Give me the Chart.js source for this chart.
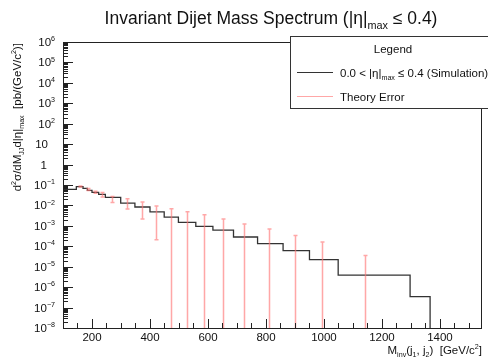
<!DOCTYPE html>
<html>
<head>
<meta charset="utf-8">
<script src="https://cdn.jsdelivr.net/npm/chart.js@4.4.0/dist/chart.umd.min.js"></script>
<style>
  html, body { margin: 0; padding: 0; background: #fff; }
  #wrap { width: 488px; height: 363px; }
</style>
</head>
<body>
<div id="wrap"><canvas id="chart" width="488" height="363"></canvas></div>
<script>
// histogram bins (GeV/c^2) and contents (pb/(GeV/c^2))
const binEdges = [100, 146, 169, 184, 200, 223, 246, 299, 348, 400, 449, 498, 558, 617, 688, 771, 859, 950, 1049, 1297, 1366];
const binValues = [0.061, 0.083, 0.068, 0.055, 0.044, 0.035, 0.025, 0.013, 0.0084, 0.0048, 0.0027, 0.00148,
                   0.00094, 0.00062, 0.000285, 0.000135, 0.000062, 0.000022, 0.0000039, 0.00000034];

// theory error bars (null low = runs off the bottom of the axis)
const errMass = [160, 186, 209, 236, 270, 322, 372, 421, 471, 527, 586, 651, 725, 810, 899, 994, 1142];
const errHigh = [0.089, 0.068, 0.049, 0.0435, 0.0277, 0.0214, 0.0147, 0.0094, 0.0069, 0.0049, 0.0035,
                 0.00217, 0.00123, 0.0007, 0.00034, 0.000162, 0.000035];
const errLow = [0.080, 0.054, 0.039, 0.026, 0.0141, 0.0067, 0.00217, 0.00021, null, null, null,
                null, null, null, null, null, null];

const xTicks = [200, 400, 600, 800, 1000, 1200, 1400];
const yExps = [6, 5, 4, 3, 2, 1, 0, -1, -2, -3, -4, -5, -6, -7, -8];

const FONT = '"Liberation Sans", Arial, Helvetica, sans-serif';

// histogram as step line points
var histPoints = [];
for (var i = 0; i < binValues.length; i++) {
    histPoints.push({x: binEdges[i], y: binValues[i]});
}
histPoints.push({x: binEdges[binEdges.length - 1], y: binValues[binValues.length - 1]});
histPoints.push({x: binEdges[binEdges.length - 1], y: 1e-12});

// draw text made of pieces, some sub/superscript
function richWidth(ctx, parts, size){
    var w = 0;
    parts.forEach(function(p){
        var s = p.s ? size * 0.62 : size;
        ctx.font = s + 'px ' + FONT;
        w += ctx.measureText(p.t).width;
    });
    return w;
}
function drawRich(ctx, parts, x, y, size, align){
    var w = richWidth(ctx, parts, size);
    var cx = x;
    if (align === 'right') cx = x - w;
    if (align === 'center') cx = x - w / 2;
    ctx.textBaseline = 'alphabetic';
    ctx.textAlign = 'left';
    parts.forEach(function(p){
        var s = p.s ? size * 0.62 : size;
        var dy = 0;
        if (p.s === 'sub') dy = size * 0.3;
        if (p.s === 'sup') dy = -size * 0.42;
        ctx.font = s + 'px ' + FONT;
        ctx.fillText(p.t, cx, y + dy);
        cx += ctx.measureText(p.t).width;
    });
}

const rootStyle = {
    id: 'rootStyle',
    afterDatasetsDraw: function(chart){
        const ctx = chart.ctx;
        const xs = chart.scales.x, ys = chart.scales.y;
        const area = chart.chartArea;
        ctx.save();
        ctx.beginPath();
        ctx.rect(area.left, area.top, area.right - area.left, area.bottom - area.top);
        ctx.clip();
        ctx.strokeStyle = 'rgba(255,120,120,0.65)';
        ctx.lineWidth = 1.5;
        for (var i = 0; i < errMass.length; i++) {
            var px = Math.round(xs.getPixelForValue(errMass[i])) + 0.5;
            var yTop = ys.getPixelForValue(errHigh[i]);
            var yBot = errLow[i] === null ? area.bottom + 2 : ys.getPixelForValue(errLow[i]);
            ctx.beginPath();
            ctx.moveTo(px, yTop);
            ctx.lineTo(px, yBot);
            ctx.moveTo(px - 2, yTop);
            ctx.lineTo(px + 2, yTop);
            if (errLow[i] !== null) {
                ctx.moveTo(px - 2, yBot);
                ctx.lineTo(px + 2, yBot);
            }
            ctx.stroke();
        }
        ctx.restore();
    },
    afterDraw: function(chart){
        const ctx = chart.ctx;
        const xs = chart.scales.x, ys = chart.scales.y;
        const a = chart.chartArea;
        ctx.save();
        ctx.fillStyle = '#111';
        ctx.strokeStyle = '#222';
        ctx.lineWidth = 1;

        // frame
        ctx.strokeRect(Math.round(a.left) + 0.5, Math.round(a.top) + 0.5,
                       Math.round(a.right - a.left) - 1, Math.round(a.bottom - a.top));

        // y ticks
        ctx.beginPath();
        for (var e = -8; e <= 6; e++) {
            var py = Math.round(ys.getPixelForValue(Math.pow(10, e))) + 0.5;
            ctx.moveTo(a.left, py);
            ctx.lineTo(a.left + 10, py);
            if (e < 6) {
                for (var m = 2; m <= 9; m++) {
                    var pm = Math.round(ys.getPixelForValue(m * Math.pow(10, e))) + 0.5;
                    ctx.moveTo(a.left, pm);
                    ctx.lineTo(a.left + 5, pm);
                }
            }
        }
        // x ticks
        for (var v = 150; v <= 1500; v += 50) {
            var px = Math.round(xs.getPixelForValue(v)) + 0.5;
            var len = (v % 200 === 0) ? 9 : 5;
            ctx.moveTo(px, a.bottom);
            ctx.lineTo(px, a.bottom - len);
        }
        ctx.stroke();

        // y labels
        yExps.forEach(function(e){
            var py = ys.getPixelForValue(Math.pow(10, e)) + 4;
            if (e === 0) drawRich(ctx, [{t: '1'}], 47, py, 11.5, 'right');
            else if (e === 1) drawRich(ctx, [{t: '10'}], 48, py, 11.5, 'right');
            else drawRich(ctx, [{t: '10'}, {t: String(e).replace('-', '\u2212'), s: 'sup'}], 55, py, 11.5, 'right');
        });
        // x labels
        xTicks.forEach(function(v){
            drawRich(ctx, [{t: String(v)}], xs.getPixelForValue(v), a.bottom + 13, 11.5, 'center');
        });

        // axis titles
        drawRich(ctx, [{t: 'M'}, {t: 'inv', s: 'sub'}, {t: '(j'}, {t: '1', s: 'sub'}, {t: ', j'}, {t: '2', s: 'sub'},
                       {t: ')  [GeV/c'}, {t: '2', s: 'sup'}, {t: ']'}], 482, 354, 11.5, 'right');
        ctx.save();
        ctx.translate(21, 43);
        ctx.rotate(-Math.PI / 2);
        drawRich(ctx, [{t: 'd'}, {t: '2', s: 'sup'}, {t: '\u03c3/dM'}, {t: 'JJ', s: 'sub'}, {t: 'd|\u03b7|'},
                       {t: 'max', s: 'sub'}, {t: '  [pb/(GeV/c'}, {t: '2', s: 'sup'}, {t: ')]'}], 0, 0, 11.5, 'right');
        ctx.restore();

        // title
        drawRich(ctx, [{t: 'Invariant Dijet Mass Spectrum (|\u03b7|'}, {t: 'max', s: 'sub'}, {t: ' \u2264 0.4)'}],
                 271, 24, 17.5, 'center');

        // legend
        ctx.fillStyle = '#fff';
        ctx.fillRect(290.5, 36.5, 210, 72);
        ctx.strokeStyle = '#333';
        ctx.strokeRect(290.5, 36.5, 210, 72);
        ctx.fillStyle = '#111';
        drawRich(ctx, [{t: 'Legend'}], 393, 53, 11.5, 'center');
        ctx.strokeStyle = '#333';
        ctx.lineWidth = 1.2;
        ctx.beginPath();
        ctx.moveTo(297, 72.5);
        ctx.lineTo(333, 72.5);
        ctx.stroke();
        drawRich(ctx, [{t: '0.0 < |\u03b7|'}, {t: 'max', s: 'sub'}, {t: ' \u2264 0.4 (Simulation)'}], 340, 77, 11.5, 'left');
        ctx.strokeStyle = 'rgba(255,120,120,0.65)';
        ctx.lineWidth = 1;
        ctx.beginPath();
        ctx.moveTo(297, 96.5);
        ctx.lineTo(333, 96.5);
        ctx.stroke();
        drawRich(ctx, [{t: 'Theory Error'}], 340, 101, 11.5, 'left');
        ctx.restore();
    }
};

const chart = new Chart(document.getElementById('chart').getContext('2d'), {
    type: 'line',
    data: {
        datasets: [{
            label: '0.0 < |\u03b7|max \u2264 0.4 (Simulation)',
            data: histPoints,
            stepped: true,
            borderColor: '#333',
            borderWidth: 1.3,
            pointRadius: 0,
            fill: false,
            tension: 0
        }]
    },
    options: {
        responsive: false,
        devicePixelRatio: 1,
        animation: false,
        layout: {padding: {left: 63, top: 42, right: 6, bottom: 35}},
        plugins: {legend: {display: false}, tooltip: {enabled: false}},
        scales: {
            x: {type: 'linear', min: 100, max: 1545, display: false},
            y: {type: 'logarithmic', min: 1e-8, max: 1e6, display: false}
        }
    },
    plugins: [rootStyle]
});
</script>
</body>
</html>
